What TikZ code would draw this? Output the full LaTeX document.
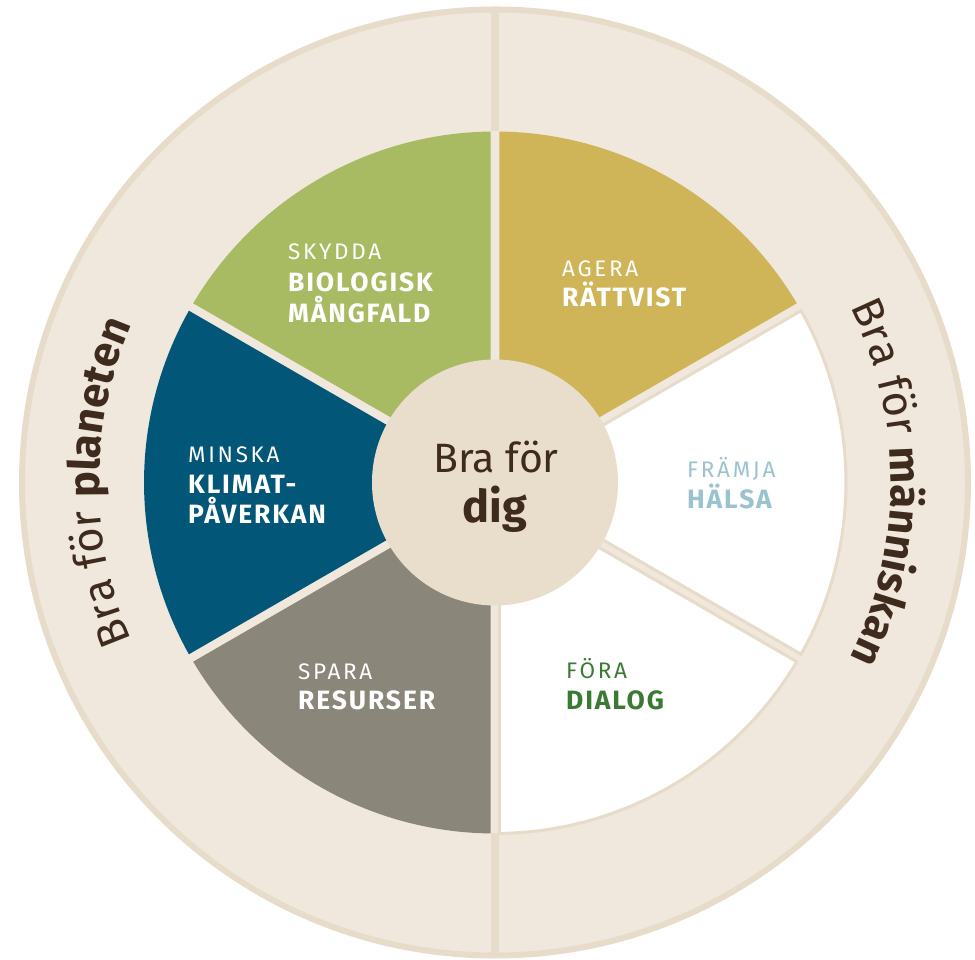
\documentclass[tikz,border=0pt]{standalone}
\usepackage{fontspec}
\setmainfont{Fira Sans}
\newfontfamily\labfont[LetterSpace=12]{Fira Sans}
\newfontfamily\labbfont[LetterSpace=7]{Fira Sans}
\usetikzlibrary{decorations.text}
\definecolor{ringfill}{HTML}{F0E7DD}
\definecolor{ringline}{HTML}{E7DBCA}
\definecolor{hubfill}{HTML}{E9DDCB}
\definecolor{leafgreen}{HTML}{A8BB63}
\definecolor{goldcol}{HTML}{CFB557}
\definecolor{petrol}{HTML}{025677}
\definecolor{stone}{HTML}{8A8679}
\definecolor{textbrown}{HTML}{3F2A1E}
\definecolor{skyblue}{HTML}{9AC3CF}
\definecolor{darkgreen}{HTML}{3B7A33}
\newcommand\ringfont{\fontsize{43.5}{43.5}\selectfont\color{textbrown}}
\begin{document}
\begin{tikzpicture}[x=1pt,y=1pt,
  lab/.style={anchor=base west, inner sep=0pt, font=\labfont\fontsize{22.5}{22.5}\selectfont},
  labb/.style={anchor=base west, inner sep=0pt, font=\labbfont\fontsize{26.5}{26.5}\selectfont\bfseries},
  hubtxt/.style={anchor=base, inner sep=0pt, text=textbrown},
  colsector/.style={fill=#1, draw=none},
  whitesector/.style={fill=white, draw=ringline, line width=3}]
\useasboundingbox (-495,-477.5) rectangle (480,482.5);
% outer ring
\filldraw[fill=ringfill, draw=ringline, line width=6] (0,0) circle[radius=473];
\draw[ringline, line width=8.6] (0,351) -- (0,474);
\draw[ringline, line width=8.6] (0,-351) -- (0,-474);
% sectors
\foreach \a/\b/\c in {30/90/goldcol, 90/150/leafgreen, 150/210/petrol, 210/270/stone}{
  \pgfmathsetmacro\m{(\a+\b)/2}
  \pgfmathsetmacro\p{\a+0.7}
  \pgfmathsetmacro\q{\b-0.7}
  \path[colsector=\c] (\m:8.6) -- (\p:351) arc[start angle=\p, end angle=\q, radius=351] -- cycle;
}
\foreach \a/\b in {270/330, 330/390}{
  \pgfmathsetmacro\m{(\a+\b)/2}
  \pgfmathsetmacro\p{\a+0.7}
  \pgfmathsetmacro\q{\b-0.7}
  \path[whitesector] (\m:8.6) -- (\p:351) arc[start angle=\p, end angle=\q, radius=351] -- cycle;
}
% hub
\node[circle, fill=hubfill, minimum size=246, inner sep=0] (hub) at (0,0) {};
\node[hubtxt, font=\fontsize{41}{41}\selectfont] (hubA) at (1,9.5) {Bra för};
\node[hubtxt, font=\fontsize{45}{45}\selectfont\bfseries] (hubB) at (0,-40.5) {dig};
% labels
\node[lab, text=white] (l1a) at (-207,222.5) {SKYDDA};
\node[labb, text=white] (l1b) at (-207,190.5) {BIOLOGISK};
\node[labb, text=white] (l1c) at (-207,159.5) {MÅNGFALD};
\node[lab, text=white] (l2a) at (67,205.5) {AGERA};
\node[labb, text=white] (l2b) at (67,175.5) {RÄTTVIST};
\node[lab, text=white] (l3a) at (-307,19.5) {MINSKA};
\node[labb, text=white] (l3b) at (-307,-11.5) {KLIMAT-};
\node[labb, text=white] (l3c) at (-307,-41.5) {PÅVERKAN};
\node[lab, text=skyblue] (l4a) at (192,4.5) {FRÄMJA};
\node[labb, text=skyblue] (l4b) at (192,-26.5) {HÄLSA};
\node[lab, text=white] (l5a) at (-197,-197.5) {SPARA};
\node[labb, text=white] (l5b) at (-197,-227.5) {RESURSER};
\node[lab, text=darkgreen] (l6a) at (71,-196.5) {FÖRA};
\node[labb, text=darkgreen] (l6b) at (71,-227.5) {DIALOG};
% ring texts
\path[decorate, decoration={text along path, text align=center,
  text={|\ringfont|Bra för |\ringfont\bfseries|planeten}}]
  (230:396) arc[start angle=230, end angle=130, radius=396];
\path[decorate, decoration={text along path, text align=center,
  text={|\ringfont|Bra för |\ringfont\bfseries|människan}}]
  (50:396) arc[start angle=50, end angle=-50, radius=396];
\end{tikzpicture}
\end{document}
